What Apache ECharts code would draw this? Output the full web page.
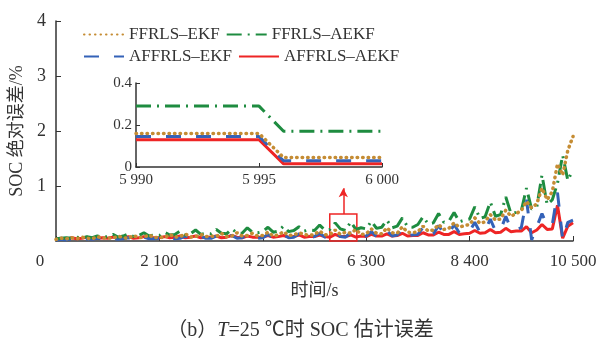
<!DOCTYPE html>
<html>
<head>
<meta charset="utf-8">
<script src="https://cdn.jsdelivr.net/npm/echarts@6/dist/echarts.min.js"></script>
<style>
  html, body { margin: 0; padding: 0; background: #fff; }
  #main { width: 601px; height: 342px; }
</style>
</head>
<body>
<div id="main"></div>
<script>
// 时间轴 (s)
var times = [
  0, 105, 210, 315, 420, 525, 630, 735, 840, 945,
  1050, 1155, 1260, 1365, 1470, 1575, 1680, 1785, 1890, 1995,
  2100, 2205, 2310, 2415, 2520, 2625, 2730, 2835, 2940, 3045,
  3150, 3255, 3360, 3465, 3570, 3675, 3780, 3885, 3990, 4095,
  4200, 4305, 4410, 4515, 4620, 4725, 4830, 4935, 5040, 5145,
  5250, 5355, 5460, 5565, 5670, 5775, 5880, 5985, 6090, 6195,
  6300, 6405, 6510, 6615, 6720, 6825, 6930, 7035, 7140, 7245,
  7350, 7455, 7560, 7665, 7770, 7875, 7980, 8085, 8190, 8295,
  8400, 8505, 8610, 8715, 8820, 8925, 9030, 9135, 9240, 9345,
  9450, 9555, 9660, 9765, 9870, 9975, 10080, 10185, 10290, 10395,
  10500
];

// SOC绝对误差 (%)
var ffrlsEkf = [
  0.03, 0.05, 0.04, 0.06, 0.04, 0.07, 0.05, 0.04, 0.08, 0.05,
  0.06, 0.05, 0.09, 0.06, 0.05, 0.10, 0.06, 0.07, 0.11, 0.06,
  0.07, 0.06, 0.12, 0.07, 0.08, 0.13, 0.07, 0.08, 0.12, 0.08,
  0.09, 0.08, 0.14, 0.08, 0.09, 0.15, 0.09, 0.10, 0.14, 0.09,
  0.10, 0.16, 0.09, 0.11, 0.17, 0.10, 0.11, 0.15, 0.12, 0.10,
  0.12, 0.18, 0.11, 0.12, 0.20, 0.12, 0.16, 0.14, 0.21, 0.12,
  0.13, 0.22, 0.14, 0.13, 0.24, 0.15, 0.14, 0.26, 0.16, 0.15,
  0.17, 0.27, 0.18, 0.20, 0.30, 0.21, 0.23, 0.33, 0.25, 0.28,
  0.30, 0.42, 0.32, 0.35, 0.48, 0.38, 0.40, 0.56, 0.45, 0.50,
  0.55, 0.72, 0.60, 0.68, 0.96, 0.75, 0.90, 1.40, 1.20, 1.65,
  1.90
];
var ffrlsAekf = [
  0.04, 0.05, 0.06, 0.05, 0.07, 0.06, 0.08, 0.06, 0.09, 0.07,
  0.08, 0.12, 0.07, 0.09, 0.13, 0.08, 0.10, 0.15, 0.09, 0.11,
  0.10, 0.16, 0.11, 0.12, 0.18, 0.11, 0.13, 0.20, 0.12, 0.14,
  0.13, 0.21, 0.14, 0.13, 0.22, 0.15, 0.14, 0.24, 0.16, 0.15,
  0.17, 0.25, 0.16, 0.18, 0.27, 0.17, 0.19, 0.26, 0.18, 0.20,
  0.19, 0.29, 0.20, 0.21, 0.33, 0.22, 0.19, 0.35, 0.21, 0.24,
  0.22, 0.36, 0.23, 0.25, 0.38, 0.24, 0.27, 0.42, 0.26, 0.25,
  0.30, 0.44, 0.31, 0.33, 0.50, 0.34, 0.36, 0.52, 0.35, 0.38,
  0.40, 0.62, 0.41, 0.44, 0.71, 0.45, 0.48, 0.80, 0.50, 0.52,
  0.55, 0.96, 0.58, 0.62, 1.20, 0.66, 0.75, 1.05, 1.56, 1.10,
  1.30
];
var affrlsEkf = [
  0.02, 0.03, 0.02, 0.04, 0.03, 0.02, 0.04, 0.03, 0.05, 0.03,
  0.03, 0.05, 0.03, 0.04, 0.06, 0.03, 0.04, 0.07, 0.04, 0.04,
  0.05, 0.04, 0.08, 0.04, 0.05, 0.09, 0.05, 0.04, 0.08, 0.05,
  0.05, 0.09, 0.05, 0.06, 0.10, 0.05, 0.06, 0.11, 0.06, 0.05,
  0.06, 0.12, 0.06, 0.07, 0.11, 0.06, 0.07, 0.13, 0.07, 0.06,
  0.08, 0.14, 0.07, 0.08, 0.16, 0.08, 0.07, 0.15, 0.09, 0.08,
  0.09, 0.17, 0.08, 0.10, 0.19, 0.09, 0.11, 0.22, 0.10, 0.11,
  0.12, 0.25, 0.12, 0.13, 0.28, 0.14, 0.13, 0.30, 0.15, 0.16,
  0.17, 0.34, 0.16, 0.19, 0.40, 0.18, 0.20, 0.45, 0.22, 0.21,
  0.24, 0.75, 0.02, 0.26, 0.50, 0.28, 0.30, 0.88, 0.03, 0.34,
  0.38
];
var affrlsAekf = [
  0.04, 0.05, 0.03, 0.06, 0.04, 0.05, 0.07, 0.04, 0.05, 0.06,
  0.05, 0.07, 0.05, 0.06, 0.08, 0.05, 0.06, 0.08, 0.06, 0.06,
  0.06, 0.08, 0.06, 0.07, 0.09, 0.06, 0.07, 0.09, 0.06, 0.07,
  0.07, 0.09, 0.06, 0.07, 0.10, 0.07, 0.06, 0.09, 0.07, 0.07,
  0.07, 0.10, 0.07, 0.08, 0.10, 0.07, 0.08, 0.11, 0.07, 0.08,
  0.08, 0.11, 0.08, 0.07, 0.12, 0.08, 0.08, 0.11, 0.07, 0.09,
  0.08, 0.12, 0.09, 0.09, 0.13, 0.09, 0.10, 0.14, 0.09, 0.10,
  0.10, 0.15, 0.11, 0.11, 0.16, 0.12, 0.12, 0.17, 0.12, 0.13,
  0.14, 0.19, 0.14, 0.15, 0.21, 0.15, 0.16, 0.23, 0.17, 0.18,
  0.18, 0.26, 0.15, 0.20, 0.30, 0.21, 0.22, 0.65, 0.05, 0.27,
  0.33
];

// 局部放大 5990~6000 s
var insetTimes = [5990, 5991, 5992, 5993, 5994, 5995, 5996, 5997, 5998, 5999, 6000];
var insetFfrlsEkf = [0.16, 0.16, 0.16, 0.16, 0.16, 0.16, 0.045, 0.045, 0.045, 0.045, 0.045];
var insetFfrlsAekf = [0.29, 0.29, 0.29, 0.29, 0.29, 0.29, 0.17, 0.17, 0.17, 0.17, 0.17];
var insetAffrlsEkf = [0.145, 0.145, 0.145, 0.145, 0.145, 0.145, 0.03, 0.03, 0.03, 0.03, 0.03];
var insetAffrlsAekf = [0.13, 0.13, 0.13, 0.13, 0.13, 0.13, 0.015, 0.015, 0.015, 0.015, 0.015];

var names = ['FFRLS–EKF', 'FFRLS–AEKF', 'AFFRLS–EKF', 'AFFRLS–AEKF'];
var colors = ['#C58C33', '#1E8C40', '#3462B8', '#EE2525'];
var lineTypes = [[0.5, 5], [15, 6, 2, 6], [15, 15], 'solid'];
var lineWidths = [3.5, 3, 3, 3];

var serif = '"Liberation Serif", "Noto Sans CJK SC", serif';

function pairs(xs, ys) {
  return xs.map(function (x, i) { return [x, ys[i]]; });
}
function spaced(v) {
  return String(v).replace(/\B(?=(\d{3})+(?!\d))/g, ' ');
}

var container = document.getElementById('main');
var myChart = echarts.init(container);

function makeSeries(idx, xs, ys, grid) {
  return {
    name: names[idx],
    type: 'line',
    xAxisIndex: grid,
    yAxisIndex: grid,
    data: pairs(xs, ys),
    symbol: 'none',
    lineStyle: {
      color: colors[idx],
      width: lineWidths[idx],
      type: lineTypes[idx],
      cap: idx === 0 ? 'round' : 'butt'
    },
    itemStyle: { color: colors[idx] }
  };
}

var allData = [ffrlsEkf, ffrlsAekf, affrlsEkf, affrlsAekf];
var insetData = [insetFfrlsEkf, insetFfrlsAekf, insetAffrlsEkf, insetAffrlsAekf];

// 绘制顺序：红、蓝、绿、棕
var order = [3, 2, 1, 0];
var series = [];
order.forEach(function (i) { series.push(makeSeries(i, times, allData[i], 0)); });
order.forEach(function (i) { series.push(makeSeries(i, insetTimes, insetData[i], 1)); });

// 放大框和箭头
series[0].markArea = {
  silent: true,
  itemStyle: { color: 'rgba(0,0,0,0)', borderColor: '#EE2525', borderWidth: 1.5 },
  data: [[{ xAxis: 5560, yAxis: 0 }, { xAxis: 6110, yAxis: 0.49 }]]
};
series[0].markLine = {
  silent: true,
  symbol: ['none', 'arrow'],
  symbolSize: [7, 9],
  label: { show: false },
  lineStyle: { color: '#EE2525', width: 1.5, type: 'solid' },
  data: [[{ coord: [5835, 0.49] }, { coord: [5835, 0.96] }]]
};

var axisLine = { lineStyle: { color: '#333', width: 1.5 } };
var legendCommon = {
  left: 78,
  itemWidth: 40,
  itemHeight: 14,
  itemGap: 6,
  itemStyle: { opacity: 0 },
  textStyle: { fontFamily: serif, fontSize: 17, color: '#333', width: 102 }
};

myChart.setOption({
  animation: false,
  title: {
    text: '（b）{i|T}=25 ℃时 SOC 估计误差',
    left: 'center',
    top: 316,
    textStyle: {
      fontFamily: serif, fontSize: 20, fontWeight: 'normal', color: '#333',
      rich: { i: { fontFamily: serif, fontSize: 20, fontStyle: 'italic', color: '#333' } }
    }
  },
  legend: [
    Object.assign({ top: 21, data: [names[0], names[1]] }, legendCommon),
    Object.assign({ top: 43, data: [names[2], names[3]] }, legendCommon)
  ],
  grid: [
    { left: 56, right: 28, top: 21, bottom: 101 },
    { left: 136, top: 83, width: 246, height: 84 }
  ],
  xAxis: [
    {
      type: 'value', gridIndex: 0, min: 0, max: 10500, interval: 2100,
      name: '时间/s', nameLocation: 'middle', nameGap: 41,
      nameTextStyle: { fontFamily: serif, fontSize: 18, color: '#333' },
      axisLine: axisLine,
      axisTick: { inside: true, length: 5, lineStyle: { color: '#333' } },
      splitLine: { show: false },
      axisLabel: {
        margin: 12, fontFamily: serif, fontSize: 17, color: '#333',
        formatter: function (v) { return v === 0 ? '{o|0}' : spaced(v); },
        rich: { o: { fontFamily: serif, fontSize: 17, color: '#333', padding: [0, 32, 0, 0] } }
      }
    },
    {
      type: 'value', gridIndex: 1, min: 5990, max: 6000, interval: 5,
      axisLine: axisLine,
      axisTick: { inside: true, length: 4, lineStyle: { color: '#333' } },
      splitLine: { show: false },
      axisLabel: { margin: 6, fontFamily: serif, fontSize: 15, color: '#333', formatter: spaced }
    }
  ],
  yAxis: [
    {
      type: 'value', gridIndex: 0, min: 0, max: 4, interval: 1,
      name: 'SOC 绝对误差/%', nameLocation: 'middle', nameGap: 28, nameRotate: 90,
      nameTextStyle: { fontFamily: serif, fontSize: 18, color: '#333' },
      axisLine: Object.assign({ show: true }, axisLine),
      axisTick: { show: true, inside: true, length: 5, lineStyle: { color: '#333' } },
      splitLine: { show: false },
      axisLabel: { showMinLabel: false, margin: 10, fontFamily: serif, fontSize: 18, color: '#333' }
    },
    {
      type: 'value', gridIndex: 1, min: 0, max: 0.4, interval: 0.2,
      axisLine: Object.assign({ show: true }, axisLine),
      axisTick: { show: true, inside: true, length: 4, lineStyle: { color: '#333' } },
      splitLine: { show: false },
      axisLabel: {
        margin: 4, fontFamily: serif, fontSize: 15, color: '#333',
        formatter: function (v) { return v === 0 ? '0' : v.toFixed(1); }
      }
    }
  ],
  series: series
});

//让图表随窗口大小变化
var resizeObserver = new ResizeObserver(function () { myChart.resize(); });
resizeObserver.observe(container);
</script>
</body>
</html>
